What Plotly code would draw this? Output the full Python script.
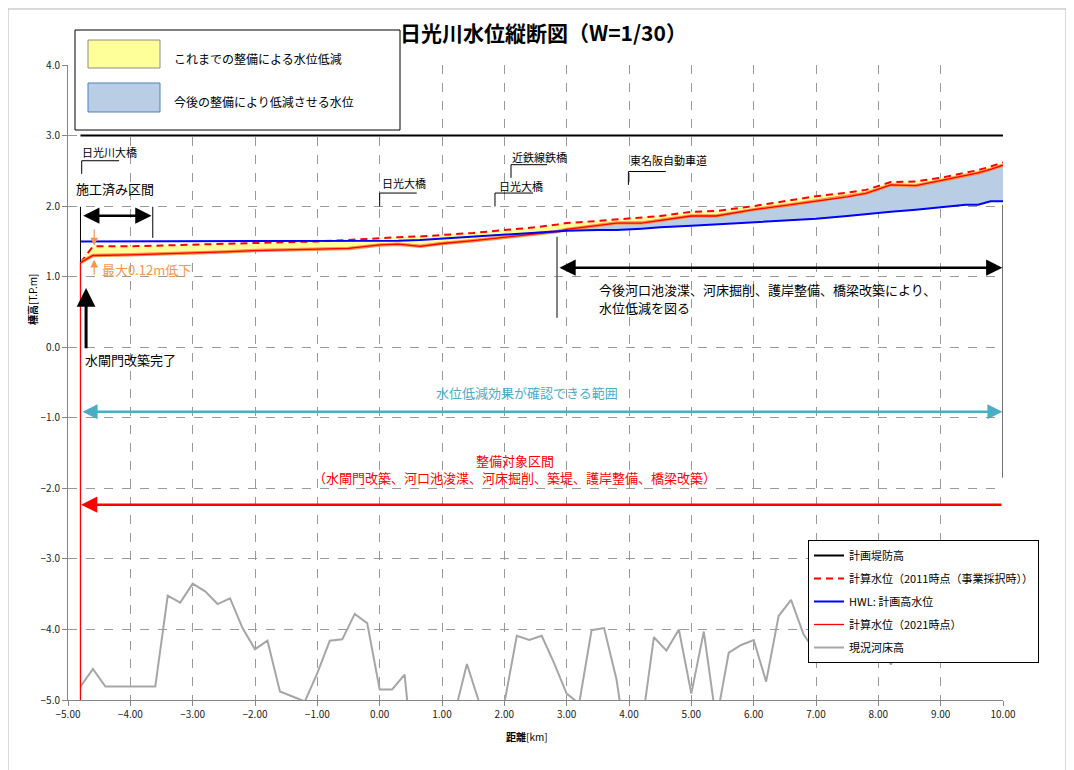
import plotly.graph_objects as go

# ---------------- data ----------------
x_wl = [-4.8, -4.6, -4.0, -3.5, -3.0, -2.5, -2.0, -1.5, -1.0, -0.5, 0.0, 0.3, 0.65, 1.0, 1.5,
        2.0, 2.5, 2.85, 3.0, 3.5, 3.8, 4.2, 4.5, 5.0, 5.4, 6.0, 6.6, 7.0, 7.5, 7.8, 8.2, 8.6,
        9.0, 9.4, 9.6, 9.8, 10.0]
wl_2021 = [1.20, 1.30, 1.31, 1.32, 1.33, 1.35, 1.37, 1.38, 1.38, 1.40, 1.45, 1.46, 1.43, 1.47, 1.51,
           1.56, 1.60, 1.64, 1.67, 1.72, 1.76, 1.76, 1.80, 1.86, 1.86, 1.95, 2.02, 2.07, 2.13, 2.18,
           2.30, 2.29, 2.36, 2.43, 2.47, 2.52, 2.58]
wl_2011 = [1.20, 1.43, 1.43, 1.44, 1.45, 1.46, 1.47, 1.48, 1.50, 1.52, 1.55, 1.56, 1.57, 1.59, 1.62,
           1.66, 1.70, 1.74, 1.76, 1.79, 1.81, 1.83, 1.86, 1.92, 1.93, 2.00, 2.08, 2.14, 2.19, 2.23,
           2.34, 2.35, 2.40, 2.47, 2.51, 2.56, 2.62]
hwl = [1.50, 1.50, 1.50, 1.50, 1.50, 1.50, 1.50, 1.50, 1.50, 1.50, 1.50, 1.51, 1.52, 1.54, 1.57,
       1.60, 1.62, 1.64, 1.65, 1.66, 1.66, 1.68, 1.70, 1.72, 1.74, 1.77, 1.79, 1.82, 1.86, 1.89,
       1.92, 1.95, 1.99, 2.02, 2.02, 2.07, 2.07]

dike_x = [-4.8, 10.0]
dike_y = [3.0, 3.0]

bed_x = [-4.8, -4.6, -4.4, -4.2, -4.0, -3.8, -3.6, -3.4, -3.2, -3.0, -2.8, -2.6, -2.4, -2.2, -2.0,
         -1.8, -1.6, -1.4, -1.2, -1.0, -0.8, -0.6, -0.4, -0.2, 0.0, 0.2, 0.4, 0.6, 0.8, 1.0,
         1.2, 1.4, 1.6, 1.8, 2.0, 2.2, 2.4, 2.6, 2.8, 3.0, 3.2, 3.4, 3.6, 3.8, 4.0,
         4.2, 4.4, 4.6, 4.8, 5.0, 5.2, 5.4, 5.6, 5.8, 6.0, 6.2, 6.4, 6.6, 6.8, 7.0,
         7.2, 7.4, 7.6, 7.8, 8.0, 8.2, 8.4, 8.6, 8.8, 9.0, 9.2, 9.4, 9.6, 9.8, 10.0]
bed_y = [-4.81, -4.56, -4.81, -4.81, -4.81, -4.81, -4.81, -3.52, -3.62, -3.35, -3.46, -3.64, -3.56, -3.98, -4.28,
         -4.16, -4.88, -4.95, -5.02, -4.62, -4.16, -4.14, -3.78, -3.91, -4.85, -4.85, -4.64, -6.40, -6.00, -5.80,
         -5.20, -4.49, -5.05, -5.60, -5.05, -4.09, -4.15, -4.09, -4.48, -4.91, -5.05, -4.01, -3.98, -4.71, -5.90,
         -5.40, -4.11, -4.30, -4.00, -4.91, -4.03, -5.30, -4.33, -4.22, -4.15, -4.74, -3.81, -3.58, -4.07, -4.33,
         -4.10, -3.90, -4.00, -3.80, -4.10, -4.50, -4.10, -3.90, -4.00, -3.80, -3.90, -4.10, -3.90, -4.00, -3.90]

x_ticks = [-5, -4, -3, -2, -1, 0, 1, 2, 3, 4, 5, 6, 7, 8, 9, 10]
y_ticks = [-5, -4, -3, -2, -1, 0, 1, 2, 3, 4]

names = ["計画堤防高", "計算水位（2011時点（事業採択時））", "HWL: 計画高水位",
         "計算水位（2021時点）", "現況河床高"]

FONT = "Noto Sans CJK JP"
YELLOW = "#FFFF99"
LBLUE = "#B9CDE5"
ORANGE = "#F7964A"
CYAN = "#4BACC6"

blue_upper = [max(r, h) for r, h in zip(wl_2021, hwl)]

fig = go.Figure()

# yellow fill: between 2021 and 2011
fig.add_trace(go.Scatter(x=x_wl, y=wl_2021, mode="lines", line=dict(width=0),
                         showlegend=False, hoverinfo="skip"))
fig.add_trace(go.Scatter(x=x_wl, y=wl_2011, mode="lines", line=dict(width=0),
                         fill="tonexty", fillcolor=YELLOW, showlegend=False, hoverinfo="skip"))
# blue fill: between HWL and 2021 where 2021 above HWL
fig.add_trace(go.Scatter(x=x_wl, y=hwl, mode="lines", line=dict(width=0),
                         showlegend=False, hoverinfo="skip"))
fig.add_trace(go.Scatter(x=x_wl, y=blue_upper, mode="lines", line=dict(width=0),
                         fill="tonexty", fillcolor=LBLUE, showlegend=False, hoverinfo="skip"))

# riverbed
fig.add_trace(go.Scatter(x=bed_x, y=bed_y, mode="lines", name=names[4],
                         line=dict(color="#A6A6A6", width=2),
                         legendrank=5, legendgroup="g5"))
# dike
fig.add_trace(go.Scatter(x=dike_x, y=dike_y, mode="lines", name=names[0],
                         line=dict(color="black", width=2),
                         legendrank=1, legendgroup="g1"))
# 2011 dashed
fig.add_trace(go.Scatter(x=x_wl, y=wl_2011, mode="lines", name=names[1],
                         line=dict(color="#FF0000", width=2, dash="7px,5px"),
                         legendrank=2, legendgroup="g2"))
# 2021 orange glow + red
fig.add_trace(go.Scatter(x=x_wl, y=wl_2021, mode="lines", showlegend=False,
                         line=dict(color=ORANGE, width=3.5), hoverinfo="skip"))
fig.add_trace(go.Scatter(x=x_wl, y=wl_2021, mode="lines", name=names[3],
                         line=dict(color="#FF0000", width=1.3),
                         legendrank=4, legendgroup="g4"))
# HWL
fig.add_trace(go.Scatter(x=x_wl, y=hwl, mode="lines", name=names[2],
                         line=dict(color="#0000FF", width=2),
                         legendrank=3, legendgroup="g3"))

shapes = []
annos = []


def vline(x, y0, y1, color="black", width=1):
    shapes.append(dict(type="line", xref="x", yref="y", x0=x, x1=x, y0=y0, y1=y1,
                       line=dict(color=color, width=width)))


def hline(x0, x1, y, color="black", width=1):
    shapes.append(dict(type="line", xref="x", yref="y", x0=x0, x1=x1, y0=y, y1=y,
                       line=dict(color=color, width=width)))


def text(x, y, t, size=13, color="black", xanchor="left", xref="x", yref="y", bold=False, angle=0):
    annos.append(dict(x=x, y=y, xref=xref, yref=yref, text=(f"<b>{t}</b>" if bold else t),
                      showarrow=False, xanchor=xanchor, yanchor="middle", textangle=angle,
                      font=dict(size=size, color=color, family=FONT)))


def arrow(xh, yh, xt, yt, color="black", width=2, size=1.0, side="end", head=2):
    annos.append(dict(x=xh, y=yh, ax=xt, ay=yt, xref="x", yref="y", axref="x", ayref="y",
                      text="", showarrow=True, arrowhead=head, startarrowhead=head,
                      arrowsize=size, startarrowsize=size, arrowwidth=width,
                      arrowcolor=color, arrowside=side, standoff=0, startstandoff=0))


# red vertical at start
vline(-4.8, -5.0, 1.2, color="#FF0000", width=1.3)

# bridge labels with leaders
text(-4.80, 2.76, "日光川大橋", size=11)
vline(-4.78, 2.457, 2.643); hline(-4.78, -4.18, 2.643)
text(0.005, 2.33, "日光大橋", size=11)
vline(0.0, 1.995, 2.185); hline(0.0, 0.594, 2.185)
text(1.88, 2.29, "日光大橋", size=11)
vline(1.85, 1.995, 2.185); hline(1.85, 2.46, 2.185)
text(2.09, 2.70, "近鉄線鉄橋", size=11)
vline(2.107, 2.40, 2.587); hline(2.107, 2.685, 2.587)
text(3.98, 2.65, "東名阪自動車道", size=11)
vline(3.99, 2.30, 2.49); hline(3.99, 4.59, 2.49)

# 施工済み区間
text(-4.90, 2.25, "施工済み区間", size=13)
vline(-4.80, 1.21, 1.99)
vline(-3.64, 1.55, 1.99)
arrow(-3.66, 1.864, -4.78, 1.864, width=2.5, size=1.3, side="end+start")

# 最大0.12m低下
arrow(-4.58, 1.44, -4.58, 1.69, color=ORANGE, width=1.2, size=1.3)
arrow(-4.58, 1.24, -4.58, 1.01, color=ORANGE, width=1.2, size=1.3)
text(-4.49, 1.10, "最大0.12m低下", size=13, color=ORANGE)

# 水閘門改築完了
arrow(-4.71, 0.84, -4.71, -0.035, width=3, size=1.25)
text(-4.76, -0.18, "水閘門改築完了", size=13)

# 今後 ...
vline(2.845, 0.418, 1.566, color="#595959", width=1.5)
vline(10.0, -1.85, 2.02, color="#404040", width=1.5)
arrow(9.99, 1.127, 2.86, 1.127, width=2.5, size=1.3, side="end+start")
text(3.49, 0.815, "今後河口池浚渫、河床掘削、護岸整備、橋梁改築により、", size=13)
text(3.49, 0.56, "水位低減を図る", size=13)

# 水位低減効果
text(2.36, -0.645, "水位低減効果が確認できる範囲", size=13, color=CYAN, xanchor="center")
arrow(9.99, -0.914, -4.79, -0.914, color=CYAN, width=2.5, size=1.2, side="end+start")

# 整備対象区間
text(2.17, -1.61, "整備対象区間", size=13, color="#FF0000", xanchor="center")
text(2.17, -1.85, "（水閘門改築、河口池浚渫、河床掘削、築堤、護岸整備、橋梁改築）", size=13,
     color="#FF0000", xanchor="center")
arrow(-4.79, -2.232, 10.0, -2.232, color="#FF0000", width=2.5, size=1.3)

# ---------- paper-level decorations ----------
# plot area in screen pixels (page has an 8px body margin)
L, R, T, B = 68, 1003, 65, 700
OFF = 8
W, H = 1066, 762


def px(x):
    return (x - L) / (R - L)


def py(y):
    return (B - y) / (B - T)


# outer frame (bottom edge runs past the page)
shapes.append(dict(type="rect", xref="paper", yref="paper", x0=px(8), x1=px(1066), y0=py(800), y1=py(9),
                   line=dict(color="#B4B4B4", width=1), fillcolor="rgba(0,0,0,0)", layer="below"))
# top-left legend box
shapes.append(dict(type="rect", xref="paper", yref="paper", x0=px(75), x1=px(400), y0=py(130), y1=py(30),
                   line=dict(color="black", width=1), fillcolor="white"))
shapes.append(dict(type="rect", xref="paper", yref="paper", x0=px(88), x1=px(160), y0=py(68), y1=py(40),
                   line=dict(color="#8C8C8C", width=1), fillcolor=YELLOW))
shapes.append(dict(type="rect", xref="paper", yref="paper", x0=px(88), x1=px(160), y0=py(112), y1=py(83),
                   line=dict(color="#4F81BD", width=1), fillcolor=LBLUE))
text(px(172), py(59), "これまでの整備による水位低減", size=12, xref="paper", yref="paper")
text(px(172), py(101), "今後の整備により低減させる水位", size=12, xref="paper", yref="paper")

# title
annos.append(dict(x=px(543), y=py(32), xref="paper", yref="paper", showarrow=False,
                  text="<b>日光川水位縦断図（W=1/30）</b>", xanchor="center", yanchor="middle",
                  font=dict(size=21, color="black", family=FONT)))
# axis titles
annos.append(dict(x=px(32), y=py(300), xref="paper", yref="paper", showarrow=False,
                  text="<b>標高</b>[T.P.m]", textangle=-90, xanchor="center", yanchor="middle",
                  font=dict(size=10, color="black", family=FONT)))
annos.append(dict(x=px(527), y=py(736), xref="paper", yref="paper", showarrow=False,
                  text="<b>距離</b>[km]", xanchor="center", yanchor="middle",
                  font=dict(size=10, color="black", family=FONT)))

fig.update_layout(
    width=W, height=H,
    margin=dict(l=L - OFF, r=W + OFF - R, t=T - OFF, b=H + OFF - B),
    paper_bgcolor="white", plot_bgcolor="white",
    font=dict(family=FONT, size=11, color="black"),
    shapes=shapes, annotations=annos,
    showlegend=True,
    legend=dict(x=px(808), y=py(540), xanchor="left", yanchor="top",
                bgcolor="white", bordercolor="black", borderwidth=1,
                font=dict(size=11, family=FONT, color="black"),
                traceorder="grouped", tracegroupgap=4, itemwidth=30),
)
fig.update_xaxes(range=[-5, 10], tickvals=x_ticks, tickformat=".2f",
                 showgrid=True, gridcolor="#9A9A9A", griddash="dash", gridwidth=1,
                 zeroline=False, showline=True, linecolor="#868686", linewidth=1,
                 ticks="outside", ticklen=5, tickcolor="#868686",
                 tickfont=dict(size=10, color="#222222", family=FONT))
fig.update_yaxes(range=[-5, 4], tickvals=y_ticks, tickformat=".1f",
                 showgrid=True, gridcolor="#9A9A9A", griddash="dash", gridwidth=1,
                 zeroline=False, showline=True, linecolor="#868686", linewidth=1,
                 ticks="outside", ticklen=5, tickcolor="#868686",
                 tickfont=dict(size=10, color="#222222", family=FONT))

fig.write_html("out.html")
